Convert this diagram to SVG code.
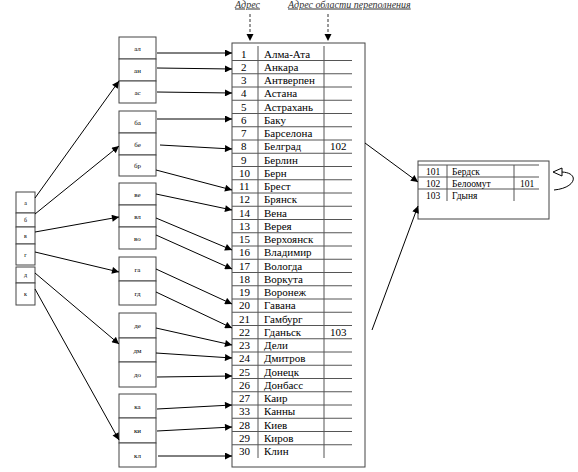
<svg xmlns="http://www.w3.org/2000/svg" width="578" height="472" viewBox="0 0 578 472">
<style>
.bx{fill:#fff;stroke:#444;stroke-width:1}
.ln{stroke:#333;stroke-width:1;fill:none}
.gl{stroke:#555;stroke-width:1}
.t{font-family:"Liberation Serif","Times New Roman",serif;font-size:11px;fill:#000}
.s{font-family:"Liberation Serif",serif;font-size:7px;fill:#000;text-anchor:middle}
.xs{font-family:"Liberation Serif",serif;font-size:6px;fill:#000;text-anchor:middle}
.o{font-family:"Liberation Serif",serif;font-size:9.5px;fill:#000}
.h{font-family:"Liberation Serif",serif;font-size:10px;font-style:italic;fill:#333;text-decoration:underline}
.ar{stroke:#000;stroke-width:1;fill:none;marker-end:url(#ah)}
</style>
<defs>
<marker id="ah" viewBox="0 0 10 10" refX="10" refY="5" markerWidth="8" markerHeight="7" markerUnits="userSpaceOnUse" orient="auto"><path d="M0,0 L10,5 L0,10 z" fill="#000"/></marker>
</defs>

<g id="headers">
<text class="h" x="235" y="7.5">Адрес</text>
<text class="h" x="288" y="7.5">Адрес области переполнения</text>
</g>

<g id="left-index">
<rect class="bx" x="16" y="192" width="19" height="21"/>
<rect class="bx" x="16" y="213" width="19" height="14"/>
<rect class="bx" x="16" y="227" width="19" height="17"/>
<rect class="bx" x="16" y="244" width="19" height="21"/>
<rect class="bx" x="16" y="267" width="19" height="16"/>
<rect class="bx" x="16" y="283" width="19" height="22"/>
<text class="xs" x="25.5" y="205">а</text>
<text class="xs" x="25.5" y="222">б</text>
<text class="xs" x="25.5" y="238">в</text>
<text class="xs" x="25.5" y="257">г</text>
<text class="xs" x="25.5" y="277">д</text>
<text class="xs" x="25.5" y="296">к</text>
</g>

<g id="group-a">
<rect class="bx" x="119" y="37" width="37" height="22"/>
<rect class="bx" x="119" y="59" width="37" height="22"/>
<rect class="bx" x="119" y="81" width="37" height="22"/>
<text class="s" x="137.5" y="50.5">ал</text>
<text class="s" x="137.5" y="72.5">ан</text>
<text class="s" x="137.5" y="94.5">ас</text>
</g>
<g id="group-b">
<rect class="bx" x="119" y="111" width="37" height="22"/>
<rect class="bx" x="119" y="133" width="37" height="22"/>
<rect class="bx" x="119" y="155" width="37" height="21"/>
<text class="s" x="137.5" y="124.5">ба</text>
<text class="s" x="137.5" y="146.5">бе</text>
<text class="s" x="137.5" y="168">бр</text>
</g>
<g id="group-v">
<rect class="bx" x="119" y="183" width="37" height="22"/>
<rect class="bx" x="119" y="205" width="37" height="22"/>
<rect class="bx" x="119" y="227" width="37" height="22"/>
<text class="s" x="137.5" y="196.5">ве</text>
<text class="s" x="137.5" y="218.5">вл</text>
<text class="s" x="137.5" y="240.5">во</text>
</g>
<g id="group-g">
<rect class="bx" x="119" y="257" width="37" height="24"/>
<rect class="bx" x="119" y="281" width="37" height="24"/>
<text class="s" x="137.5" y="271.5">га</text>
<text class="s" x="137.5" y="295.5">гд</text>
</g>
<g id="group-d">
<rect class="bx" x="119" y="313" width="37" height="25"/>
<rect class="bx" x="119" y="338" width="37" height="24"/>
<rect class="bx" x="119" y="362" width="37" height="25"/>
<text class="s" x="137.5" y="328">де</text>
<text class="s" x="137.5" y="352.5">дм</text>
<text class="s" x="137.5" y="377">до</text>
</g>
<g id="group-k">
<rect class="bx" x="119" y="394" width="37" height="24"/>
<rect class="bx" x="119" y="418" width="37" height="25"/>
<rect class="bx" x="119" y="443" width="37" height="24"/>
<text class="s" x="137.5" y="408.5">ка</text>
<text class="s" x="137.5" y="433">ки</text>
<text class="s" x="137.5" y="457.5">кл</text>
</g>

<g id="main-table">
<rect class="bx" x="232" y="43" width="133" height="424" stroke="#333"/>
<line class="gl" x1="258" y1="46" x2="258" y2="458"/>
<line class="gl" x1="324" y1="46" x2="324" y2="458"/>
<g class="gl">
<line x1="232" y1="60.5" x2="352" y2="60.5"/>
<line x1="232" y1="73.75" x2="352" y2="73.75"/>
<line x1="232" y1="87" x2="352" y2="87"/>
<line x1="232" y1="100.25" x2="352" y2="100.25"/>
<line x1="232" y1="113.5" x2="352" y2="113.5"/>
<line x1="232" y1="126.75" x2="352" y2="126.75"/>
<line x1="232" y1="140" x2="352" y2="140"/>
<line x1="232" y1="153.25" x2="352" y2="153.25"/>
<line x1="232" y1="166.5" x2="352" y2="166.5"/>
<line x1="232" y1="179.75" x2="352" y2="179.75"/>
<line x1="232" y1="193" x2="352" y2="193"/>
<line x1="232" y1="206.25" x2="352" y2="206.25"/>
<line x1="232" y1="219.5" x2="352" y2="219.5"/>
<line x1="232" y1="232.75" x2="352" y2="232.75"/>
<line x1="232" y1="246" x2="352" y2="246"/>
<line x1="232" y1="259.25" x2="352" y2="259.25"/>
<line x1="232" y1="272.5" x2="352" y2="272.5"/>
<line x1="232" y1="285.75" x2="352" y2="285.75"/>
<line x1="232" y1="299" x2="352" y2="299"/>
<line x1="232" y1="312.25" x2="352" y2="312.25"/>
<line x1="232" y1="325.5" x2="352" y2="325.5"/>
<line x1="232" y1="338.75" x2="352" y2="338.75"/>
<line x1="232" y1="352" x2="352" y2="352"/>
<line x1="232" y1="365.25" x2="352" y2="365.25"/>
<line x1="232" y1="378.5" x2="352" y2="378.5"/>
<line x1="232" y1="391.75" x2="352" y2="391.75"/>
<line x1="232" y1="405" x2="352" y2="405"/>
<line x1="232" y1="418.25" x2="352" y2="418.25"/>
<line x1="232" y1="431.5" x2="352" y2="431.5"/>
<line x1="232" y1="444.75" x2="352" y2="444.75"/>
</g>
<g class="t">
<text x="241" y="57.5">1</text><text x="264" y="57.5">Алма-Ата</text>
<text x="241" y="70.75">2</text><text x="264" y="70.75">Анкара</text>
<text x="241" y="84">3</text><text x="264" y="84">Антверпен</text>
<text x="241" y="97.25">4</text><text x="264" y="97.25">Астана</text>
<text x="241" y="110.5">5</text><text x="264" y="110.5">Астрахань</text>
<text x="241" y="123.75">6</text><text x="264" y="123.75">Баку</text>
<text x="241" y="137">7</text><text x="264" y="137">Барселона</text>
<text x="241" y="150.25">8</text><text x="264" y="150.25">Белград</text><text x="330" y="150.25">102</text>
<text x="241" y="163.5">9</text><text x="264" y="163.5">Берлин</text>
<text x="239" y="176.75">10</text><text x="264" y="176.75">Берн</text>
<text x="239" y="190">11</text><text x="264" y="190">Брест</text>
<text x="239" y="203.25">12</text><text x="264" y="203.25">Брянск</text>
<text x="239" y="216.5">14</text><text x="264" y="216.5">Вена</text>
<text x="239" y="229.75">13</text><text x="264" y="229.75">Верея</text>
<text x="239" y="243">15</text><text x="264" y="243">Верхоянск</text>
<text x="239" y="256.25">16</text><text x="264" y="256.25">Владимир</text>
<text x="239" y="269.5">17</text><text x="264" y="269.5">Вологда</text>
<text x="239" y="282.75">18</text><text x="264" y="282.75">Воркута</text>
<text x="239" y="296">19</text><text x="264" y="296">Воронеж</text>
<text x="239" y="309.25">20</text><text x="264" y="309.25">Гавана</text>
<text x="239" y="322.5">21</text><text x="264" y="322.5">Гамбург</text>
<text x="239" y="335.75">22</text><text x="264" y="335.75">Гданьск</text><text x="330" y="335.75">103</text>
<text x="239" y="349">23</text><text x="264" y="349">Дели</text>
<text x="239" y="362.25">24</text><text x="264" y="362.25">Дмитров</text>
<text x="239" y="375.5">25</text><text x="264" y="375.5">Донецк</text>
<text x="239" y="388.75">26</text><text x="264" y="388.75">Донбасс</text>
<text x="239" y="402">27</text><text x="264" y="402">Каир</text>
<text x="239" y="415.25">33</text><text x="264" y="415.25">Канны</text>
<text x="239" y="428.5">28</text><text x="264" y="428.5">Киев</text>
<text x="239" y="441.75">29</text><text x="264" y="441.75">Киров</text>
<text x="239" y="455">30</text><text x="264" y="455">Клин</text>
</g>
</g>

<g id="overflow-table">
<rect class="bx" x="418" y="161" width="131" height="58"/>
<g class="gl">
<line x1="418" y1="165" x2="539" y2="165"/>
<line x1="418" y1="177" x2="539" y2="177"/>
<line x1="418" y1="189" x2="539" y2="189"/>
<line x1="447" y1="165" x2="447" y2="201"/>
<line x1="514" y1="165" x2="514" y2="201"/>
</g>
<text class="o" x="426" y="175">101</text><text class="o" x="452" y="175">Бердск</text>
<text class="o" x="426" y="187">102</text><text class="o" x="452" y="187">Белоомут</text><text class="o" x="520" y="187">101</text>
<text class="o" x="426" y="199">103</text><text class="o" x="452" y="199">Гдыня</text>
</g>

<g id="connectors">
<line class="ln" x1="250" y1="14" x2="250" y2="36" stroke-dasharray="3,2"/>
<line class="ln" x1="328" y1="14" x2="328" y2="36" stroke-dasharray="3,2"/>
<path d="M250,41 L246.5,34 L253.5,34 z" fill="#000"/>
<path d="M328,41 L324.5,34 L331.5,34 z" fill="#000"/>

<line class="ar" x1="35" y1="198" x2="119" y2="81"/>
<line class="ar" x1="35" y1="214" x2="119" y2="146"/>
<line class="ar" x1="35" y1="232" x2="119" y2="217"/>
<line class="ar" x1="35" y1="252" x2="119" y2="272"/>
<line class="ar" x1="35" y1="273" x2="119" y2="344"/>
<line class="ar" x1="35" y1="289" x2="119" y2="440"/>

<line class="ar" x1="157" y1="53" x2="232" y2="53"/>
<line class="ar" x1="157" y1="68" x2="232" y2="69"/>
<line class="ar" x1="157" y1="92" x2="232" y2="93"/>
<line class="ar" x1="157" y1="119" x2="232" y2="119"/>
<line class="ar" x1="160" y1="145" x2="232" y2="149"/>
<line class="ar" x1="156" y1="170" x2="232" y2="190"/>
<line class="ar" x1="156" y1="194" x2="232" y2="210"/>
<line class="ar" x1="156" y1="218" x2="232" y2="250"/>
<line class="ar" x1="156" y1="235" x2="232" y2="269"/>
<line class="ar" x1="156" y1="269" x2="232" y2="304"/>
<line class="ar" x1="156" y1="292" x2="232" y2="328"/>
<line class="ar" x1="156" y1="328" x2="232" y2="345"/>
<line class="ar" x1="156" y1="353" x2="232" y2="358"/>
<line class="ar" x1="157" y1="377" x2="232" y2="376"/>
<line class="ar" x1="157" y1="409" x2="232" y2="405"/>
<line class="ar" x1="157" y1="431" x2="232" y2="427"/>
<line class="ar" x1="158" y1="456" x2="232" y2="456"/>

<line class="ar" x1="365" y1="143" x2="418" y2="182"/>
<line class="ar" x1="372" y1="330" x2="418" y2="206"/>

<path d="M554,190 C576,188 580,173 562,172" fill="none" stroke="#000" stroke-width="1"/>
<path d="M553,172 L562,168 L562,176 z" fill="#fff" stroke="#000" stroke-width="1"/>
</g>
</svg>
